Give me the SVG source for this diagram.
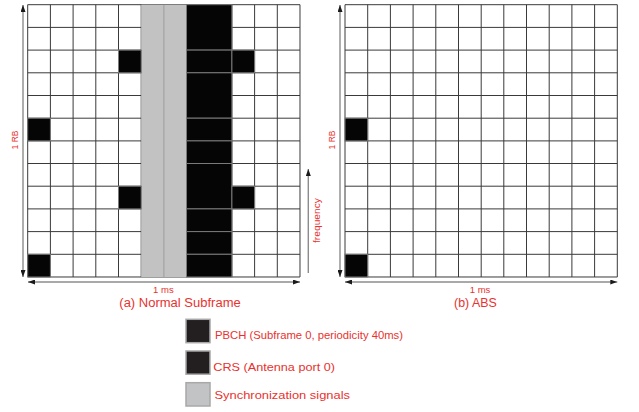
<svg xmlns="http://www.w3.org/2000/svg" xmlns:xlink="http://www.w3.org/1999/xlink" width="639" height="412" viewBox="0 0 639 412">
<style>
.lbl{font-family:"Liberation Sans",Arial,sans-serif;fill:#e8322e}
.grid{fill:none;stroke:#3a3a3a;stroke-width:1}
.blk{fill:#050505;stroke:#7a7a7a;stroke-width:1}
.ax{stroke:#8c8c8c;stroke-width:1.4;fill:none}
.leg{stroke:#a8a8a8;stroke-width:1.5}
</style>
<defs>
<marker id="ah" viewBox="0 0 7 5" markerWidth="7" markerHeight="5" refX="7" refY="2.5" orient="auto-start-reverse" markerUnits="userSpaceOnUse">
<path d="M0,0L7,2.5L0,5z" fill="#1a1a1a"/>
</marker>
<path id="gridlines" class="grid" d="M0 0H272.3M0 22.7H272.3M0 45.4H272.3M0 68.1H272.3M0 90.8H272.3M0 113.5H272.3M0 136.2H272.3M0 158.8H272.3M0 181.5H272.3M0 204.2H272.3M0 226.9H272.3M0 249.6H272.3M0 272.3H272.3M0 0V272.3M22.7 0V272.3M45.4 0V272.3M68.1 0V272.3M90.8 0V272.3M113.5 0V272.3M136.2 0V272.3M158.8 0V272.3M181.5 0V272.3M204.2 0V272.3M226.9 0V272.3M249.6 0V272.3M272.3 0V272.3"/>
</defs>
<rect width="639" height="412" fill="#fff"/>

<g id="grid-a" transform="translate(27.7,4.7)">
<rect width="272.3" height="272.3" fill="#fff"/>
<use xlink:href="#gridlines"/>
<rect x="113.5" y="0" width="45.4" height="272.3" fill="#c2c2c2"/>
<line x1="136.2" y1="0" x2="136.2" y2="272.3" stroke="#9c9c9c" stroke-width="1"/>
<rect class="blk" x="158.8" y="0" width="45.4" height="45.4"/>
<rect class="blk" x="158.8" y="45.4" width="45.4" height="22.7"/>
<rect class="blk" x="158.8" y="68.1" width="45.4" height="45.4"/>
<rect class="blk" x="158.8" y="113.5" width="45.4" height="22.7"/>
<rect class="blk" x="158.8" y="136.2" width="45.4" height="22.6"/>
<rect class="blk" x="158.8" y="158.8" width="45.4" height="45.4"/>
<rect class="blk" x="158.8" y="204.2" width="45.4" height="22.7"/>
<rect class="blk" x="158.8" y="226.9" width="45.4" height="22.7"/>
<rect class="blk" x="158.8" y="249.6" width="45.4" height="22.7"/>
<rect class="blk" x="90.8" y="45.4" width="22.7" height="22.7"/>
<rect class="blk" x="204.2" y="45.4" width="22.7" height="22.7"/>
<rect class="blk" x="90.8" y="181.5" width="22.7" height="22.7"/>
<rect class="blk" x="204.2" y="181.5" width="22.7" height="22.7"/>
<rect class="blk" x="0" y="113.5" width="22.7" height="22.7"/>
<rect class="blk" x="0" y="249.6" width="22.7" height="22.7"/>
</g>

<g id="grid-b" transform="translate(345,4.7)">
<rect width="272.3" height="272.3" fill="#fff"/>
<use xlink:href="#gridlines"/>
<rect class="blk" x="0" y="113.5" width="22.7" height="22.7"/>
<rect class="blk" x="0" y="249.6" width="22.7" height="22.7"/>
</g>

<g id="connectors">
<line class="ax" x1="23" y1="5" x2="23" y2="277" marker-start="url(#ah)" marker-end="url(#ah)"/>
<line class="ax" x1="28" y1="282" x2="300" y2="282" marker-start="url(#ah)" marker-end="url(#ah)"/>
<line class="ax" x1="308.3" y1="273" x2="308.3" y2="169" marker-end="url(#ah)"/>
<line class="ax" x1="340" y1="5" x2="340" y2="277" marker-start="url(#ah)" marker-end="url(#ah)"/>
<line class="ax" x1="345" y1="282" x2="617.3" y2="282" marker-start="url(#ah)" marker-end="url(#ah)"/>
</g>

<g id="labels">
<text class="lbl" font-size="8.5" text-anchor="middle" transform="translate(18.3,140) rotate(-90)">1 RB</text>
<text class="lbl" font-size="8.5" text-anchor="middle" transform="translate(335,140) rotate(-90)">1 RB</text>
<text class="lbl" font-size="9.5" text-anchor="middle" transform="translate(319.5,220.5) rotate(-90)" textLength="45" lengthAdjust="spacingAndGlyphs">frequency</text>
<text class="lbl" font-size="9.5" x="163.4" y="292.5" text-anchor="middle">1 ms</text>
<text class="lbl" font-size="9.5" x="480" y="292.5" text-anchor="middle">1 ms</text>
<text class="lbl" font-size="12.5" x="119.3" y="306.7" textLength="121.4" lengthAdjust="spacingAndGlyphs">(a) Normal Subframe</text>
<text class="lbl" font-size="12.5" x="454" y="306.7" textLength="42.7" lengthAdjust="spacingAndGlyphs">(b) ABS</text>
</g>

<g id="legend-pbch">
<rect class="leg" x="186" y="319.3" width="24" height="23.4" fill="#231f20"/>
<text class="lbl" font-size="11.8" x="215" y="339.3" textLength="188" lengthAdjust="spacingAndGlyphs">PBCH (Subframe 0, periodicity 40ms)</text>
</g>
<g id="legend-crs">
<rect class="leg" x="186" y="351" width="24" height="23.2" fill="#231f20"/>
<text class="lbl" font-size="11.8" x="213.3" y="371" textLength="121.7" lengthAdjust="spacingAndGlyphs">CRS (Antenna port 0)</text>
</g>
<g id="legend-sync">
<rect class="leg" x="186" y="382.7" width="24" height="23.3" fill="#c1c3c5"/>
<text class="lbl" font-size="11.8" x="214.5" y="399.3" textLength="135.5" lengthAdjust="spacingAndGlyphs">Synchronization signals</text>
</g>
</svg>
